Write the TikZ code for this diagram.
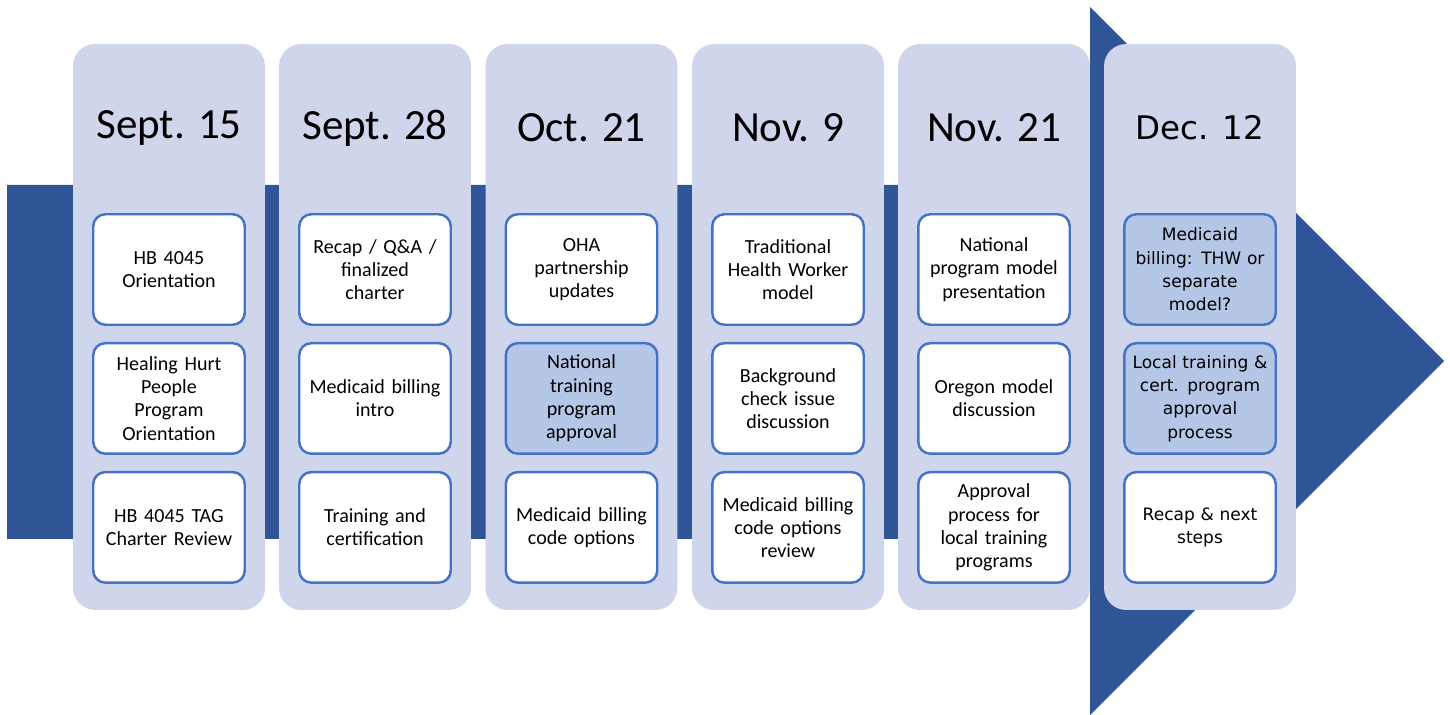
\documentclass[tikz,border=0pt]{standalone}
\usepackage{fontspec}
\setmainfont{Carlito}
\newfontfamily\verafont{DejaVu Sans}
\usetikzlibrary{positioning}
\definecolor{arrowBlue}{HTML}{2F5597}
\definecolor{columnFill}{HTML}{CFD5EA}
\definecolor{boxLine}{HTML}{4472C4}
\definecolor{boxHigh}{HTML}{B4C7E7}
\tikzset{
    dateColumn/.style={
        rectangle,
        rounded corners=0.44cm,
        fill=columnFill,
        minimum width=3.84cm,
        minimum height=11.32cm,
        inner sep=0pt
    },
    dateLabel/.style={
        font=\fontsize{24.5}{30}\selectfont,
        inner sep=0pt
    },
    topicBox/.style={
        rectangle,
        rounded corners=0.24cm,
        draw=boxLine,
        line width=1.4pt,
        fill=white,
        minimum width=3.03cm,
        minimum height=2.21cm,
        text width=2.9cm,
        align=center,
        inner sep=0pt,
        font=\fontsize{11.4}{13.2}\selectfont
    },
    topicHigh/.style={
        topicBox,
        fill=boxHigh
    },
    lateBox/.style={
        font=\verafont\fontsize{9.7}{13.3}\selectfont
    }
}

\begin{document}
\begin{tikzpicture}[x=0.02cm, y=-0.02cm, node distance=0.32cm]
    \useasboundingbox (0,0) rectangle (1450,715);

    % Timeline arrow
    \fill[arrowBlue] (7,185) -- (1090,185) -- (1090,7) -- (1444,361)
        -- (1090,715) -- (1090,539) -- (7,539) -- cycle;

    % Date columns
    \node[dateColumn] (ColA) at (169,327) {};
    \node[dateColumn] (ColB) at (375,327) {};
    \node[dateColumn] (ColC) at (581.5,327) {};
    \node[dateColumn] (ColD) at (788,327) {};
    \node[dateColumn] (ColE) at (994,327) {};
    \node[dateColumn] (ColF) at (1200,327) {};

    % Dates
    \node[dateLabel] (DateA) at (169,128) {Sept. 15};
    \node[dateLabel] (DateB) at (375,128) {Sept. 28};
    \node[dateLabel] (DateC) at (581.5,128) {Oct. 21};
    \node[dateLabel] (DateD) at (788,128) {Nov. 9};
    \node[dateLabel] (DateE) at (994,128) {Nov. 21};
    \node[dateLabel, font=\verafont\fontsize{18.5}{24}\selectfont] (DateF) at (1200,128) {Dec. 12};

    % Sept. 15
    \node[topicBox] (A1) at (169,269.5) {HB 4045\\Orientation};
    \node[topicBox, below=of A1] (A2) {Healing Hurt\\People\\Program\\Orientation};
    \node[topicBox, below=of A2] (A3) {HB 4045 TAG\\Charter Review};

    % Sept. 28
    \node[topicBox] (B1) at (375,269.5) {Recap / Q\&A /\\finalized\\charter};
    \node[topicBox, below=of B1] (B2) {Medicaid billing\\intro};
    \node[topicBox, below=of B2] (B3) {Training and\\certification};

    % Oct. 21
    \node[topicBox] (C1) at (581.5,269.5) {OHA\\partnership\\updates};
    \node[topicHigh, below=of C1] (C2) {National\\training\\program\\approval};
    \node[topicBox, below=of C2] (C3) {Medicaid billing\\code options};

    % Nov. 9
    \node[topicBox] (D1) at (788,269.5) {Traditional\\Health Worker\\model};
    \node[topicBox, below=of D1] (D2) {Background\\check issue\\discussion};
    \node[topicBox, below=of D2] (D3) {Medicaid billing\\code options\\review};

    % Nov. 21
    \node[topicBox] (E1) at (994,269.5) {National\\program model\\presentation};
    \node[topicBox, below=of E1] (E2) {Oregon model\\discussion};
    \node[topicBox, below=of E2] (E3) {Approval\\process for\\local training\\programs};

    % Dec. 12
    \node[topicHigh, lateBox] (F1) at (1200,269.5) {Medicaid\\billing: THW or\\separate\\model?};
    \node[topicHigh, lateBox, below=of F1] (F2) {Local training \&\\cert. program\\approval\\process};
    \node[topicBox, lateBox, below=of F2] (F3) {Recap \& next\\steps};
\end{tikzpicture}
\end{document}
